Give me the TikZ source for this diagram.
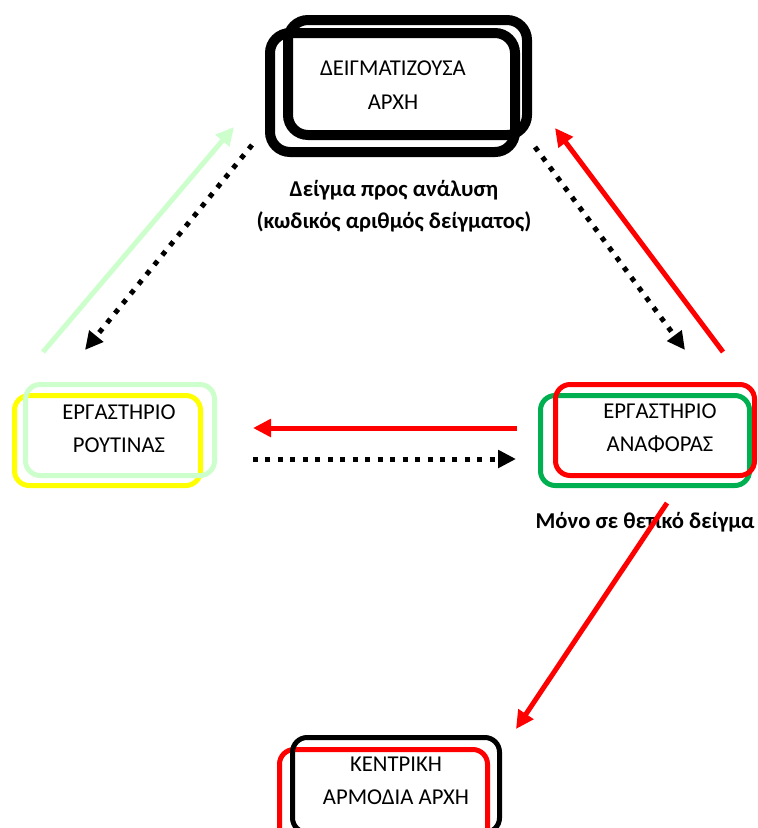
\documentclass[tikz,border=0pt]{standalone}
\usepackage{fontspec}
\setmainfont{Carlito}
\usetikzlibrary{arrows.meta}
\definecolor{palegreen}{HTML}{CCFFCC}
\definecolor{labgreen}{HTML}{00B050}
\definecolor{hiyellow}{HTML}{FFFF00}
\tikzset{
  frame/.style={draw, rounded corners=11pt, line width=3.75pt, inner sep=0pt},
  heavy/.style={frame, line width=7.5pt, rounded corners=15pt},
  boxtext/.style={align=center, font=\fontsize{17}{25}\selectfont},
  note/.style={align=center, font=\bfseries\fontsize{17}{24}\selectfont},
  flow/.style={line width=3.75pt, -{Triangle[length=13.5pt,width=13pt]}},
  dots/.style={flow, black, dash pattern=on 3.75pt off 5.6pt}
}
\begin{document}
\begin{tikzpicture}[x=0.75pt,y=-0.75pt]
\useasboundingbox (0,0) rectangle (757,828);
\clip (0,0) rectangle (757,828);

% Sampling authority (top)
\node[heavy, minimum width=245*0.75pt, minimum height=119*0.75pt] (sampA) at (392.5,92.5) {};
\node[heavy, minimum width=239*0.75pt, minimum height=115*0.75pt] (sampB) at (407.5,77.5) {};
\node[boxtext] (samp) at (393,85) {ΔΕΙΓΜΑΤΙΖΟΥΣΑ\\ΑΡΧΗ};
\node[note] (sampNote) at (394,206) {Δείγμα προς ανάλυση\\(κωδικός αριθμός δείγματος)};

% Routine laboratory (left)
\node[frame, draw=hiyellow, minimum width=186*0.75pt, minimum height=90*0.75pt] (routA) at (107.5,440.5) {};
\node[frame, draw=palegreen, minimum width=189*0.75pt, minimum height=91*0.75pt] (routB) at (120,430) {};
\node[boxtext] (rout) at (119,428.5) {ΕΡΓΑΣΤΗΡΙΟ\\ΡΟΥΤΙΝΑΣ};

% Reference laboratory (right)
\node[frame, draw=labgreen, minimum width=209*0.75pt, minimum height=90*0.75pt] (refA) at (645,440.5) {};
\node[frame, draw=red, minimum width=199*0.75pt, minimum height=91*0.75pt] (refB) at (655,430) {};
\node[boxtext] (ref) at (660,428.5) {ΕΡΓΑΣΤΗΡΙΟ\\ΑΝΑΦΟΡΑΣ};
\node[note] (refNote) at (645,522) {Μόνο σε θετικό δείγμα};

% Central competent authority (bottom, cut by the page)
\node[frame, draw=red, minimum width=208*0.75pt, minimum height=95*0.75pt] (centA) at (383.5,797) {};
\node[frame, draw=black, minimum width=207*0.75pt, minimum height=95*0.75pt] (centB) at (396,785) {};
\node[boxtext] (cent) at (396,781) {ΚΕΝΤΡΙΚΗ\\ΑΡΜΟΔΙΑ ΑΡΧΗ};

% Arrow ends
\coordinate (g1s) at (43,352);   \coordinate (g1e) at (234,127);
\coordinate (d1s) at (252,145);  \coordinate (d1e) at (85,350);
\coordinate (d2s) at (535,147);  \coordinate (d2e) at (685,350);
\coordinate (r1s) at (723,352);  \coordinate (r1e) at (555,128);
\coordinate (r2s) at (517,428);  \coordinate (r2e) at (253,428);
\coordinate (d3s) at (253,459);  \coordinate (d3e) at (516,459);
\coordinate (r3s) at (667,503);  \coordinate (r3e) at (516,729);

\draw[flow, palegreen] (g1s) -- (g1e);
\foreach \a/\b in {d1s/d1e, d2s/d2e, d3s/d3e} {
  \draw[dots] (\a) -- (\b);
}
\foreach \a/\b in {r1s/r1e, r2s/r2e, r3s/r3e} {
  \draw[flow, red] (\a) -- (\b);
}
\end{tikzpicture}
\end{document}
